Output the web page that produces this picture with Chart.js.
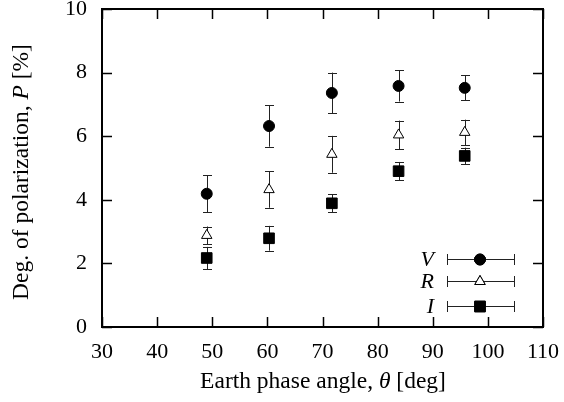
<!DOCTYPE html>
<html>
<head>
<meta charset="utf-8">
<script src="https://cdn.jsdelivr.net/npm/chart.js@4/dist/chart.umd.min.js"></script>
<style>
  body { margin: 0; background: #fff; }
  #wrap { width: 564px; height: 402px; }
</style>
</head>
<body>
<div id="wrap"><canvas id="pol-chart"></canvas></div>
<script>
// Earth phase angle (deg) and polarization (%) per band, with 1-sigma errors
const phaseAngles = [49.0, 60.3, 71.7, 83.8, 95.8];
const polV = [4.19, 6.32, 7.36, 7.58, 7.52];
const errV = [0.58, 0.65, 0.64, 0.49, 0.39];
const polR = [2.88, 4.32, 5.43, 6.04, 6.12];
const errR = [0.28, 0.57, 0.58, 0.45, 0.40];
const polI = [2.17, 2.79, 3.89, 4.90, 5.38];
const errI = [0.35, 0.39, 0.28, 0.29, 0.26];
const bandLabels = ['V', 'R', 'I'];
const xTicks = [30, 40, 50, 60, 70, 80, 90, 100, 110];
const yTicks = [0, 2, 4, 6, 8, 10];

const serif = "'Liberation Serif', 'DejaVu Serif', serif";
const fontSize = 22;
const titleSize = 23.5;

function toPoints(ys, errs) {
    return phaseAngles.map((x, i) => ({ x: x, y: ys[i], err: errs[i] }));
}

// vertical error bars with caps
const errorBars = {
    id: 'errorBars',
    beforeDatasetsDraw(chart) {
        const ctx = chart.ctx;
        const xs = chart.scales.x, ys = chart.scales.y;
        ctx.save();
        ctx.strokeStyle = '#222';
        ctx.lineWidth = 1;
        chart.data.datasets.forEach(ds => {
            ds.data.forEach(p => {
                const px = Math.round(xs.getPixelForValue(p.x)) + 0.5;
                const top = ys.getPixelForValue(p.y + p.err);
                const bot = ys.getPixelForValue(p.y - p.err);
                ctx.beginPath();
                ctx.moveTo(px, top); ctx.lineTo(px, bot);
                ctx.moveTo(px - 4.5, Math.round(top) + 0.5); ctx.lineTo(px + 4.5, Math.round(top) + 0.5);
                ctx.moveTo(px - 4.5, Math.round(bot) + 0.5); ctx.lineTo(px + 4.5, Math.round(bot) + 0.5);
                ctx.stroke();
            });
        });
        ctx.restore();
    }
};

// frame, inward ticks on all four sides, axis titles and the legend
const frame = {
    id: 'frame',
    afterDraw(chart) {
        const ctx = chart.ctx;
        const a = chart.chartArea;
        const xs = chart.scales.x, ys = chart.scales.y;
        ctx.save();
        ctx.strokeStyle = '#000';
        ctx.lineWidth = 2;
        ctx.strokeRect(a.left, a.top, a.right - a.left, a.bottom - a.top);
        ctx.lineWidth = 1.5;
        ctx.beginPath();
        xTicks.forEach(v => {
            const px = Math.round(xs.getPixelForValue(v)) + 0.5;
            ctx.moveTo(px, a.bottom); ctx.lineTo(px, a.bottom - 10);
            ctx.moveTo(px, a.top); ctx.lineTo(px, a.top + 10);
        });
        yTicks.forEach(v => {
            const py = Math.round(ys.getPixelForValue(v)) + 0.5;
            ctx.moveTo(a.left, py); ctx.lineTo(a.left + 10, py);
            ctx.moveTo(a.right, py); ctx.lineTo(a.right - 10, py);
        });
        ctx.stroke();

        // x title
        ctx.fillStyle = '#000';
        ctx.textBaseline = 'middle';
        const xParts = [['Earth phase angle, ', 'normal'], ['\u03b8', 'italic'], [' [deg]', 'normal']];
        drawParts(ctx, xParts, 323, 382);

        // y title, rotated
        ctx.save();
        ctx.translate(22, 172);
        ctx.rotate(-Math.PI / 2);
        const yParts = [['Deg. of polarization, ', 'normal'], ['P', 'italic'], [' [%]', 'normal']];
        drawParts(ctx, yParts, 0, 0);
        ctx.restore();

        // legend with horizontal error bars
        const rows = [259, 281, 306];
        chart.data.datasets.forEach((ds, i) => {
            const y = rows[i];
            ctx.font = 'italic ' + fontSize + 'px ' + serif;
            ctx.textAlign = 'right';
            ctx.fillStyle = '#000';
            ctx.fillText(bandLabels[i], 434, y + 1);
            ctx.strokeStyle = '#222';
            ctx.lineWidth = 1;
            ctx.beginPath();
            ctx.moveTo(447, y + 0.5); ctx.lineTo(514, y + 0.5);
            ctx.moveTo(447.5, y - 5); ctx.lineTo(447.5, y + 6);
            ctx.moveTo(514.5, y - 5); ctx.lineTo(514.5, y + 6);
            ctx.stroke();
            Chart.helpers.drawPoint(ctx, {
                pointStyle: ds.pointStyle,
                radius: ds.pointRadius,
                borderWidth: ds.borderWidth
            }, 480, y + 0.5);
            ctx.fillStyle = ds.backgroundColor;
            ctx.strokeStyle = ds.borderColor;
            ctx.lineWidth = ds.borderWidth;
            ctx.fill();
            ctx.stroke();
        });
        ctx.restore();
    }
};

function drawParts(ctx, parts, cx, cy) {
    let total = 0;
    parts.forEach(p => {
        ctx.font = p[1] + ' ' + titleSize + 'px ' + serif;
        total += ctx.measureText(p[0]).width;
    });
    let x = cx - total / 2;
    ctx.textAlign = 'left';
    parts.forEach(p => {
        ctx.font = p[1] + ' ' + titleSize + 'px ' + serif;
        ctx.fillText(p[0], x, cy);
        x += ctx.measureText(p[0]).width;
    });
}

const ctx = document.getElementById('pol-chart').getContext('2d');
new Chart(ctx, {
    type: 'scatter',
    data: {
        datasets: [
            { label: 'V', data: toPoints(polV, errV), pointStyle: 'circle', pointRadius: 5.5,
              backgroundColor: '#000', borderColor: '#000', borderWidth: 1 },
            { label: 'R', data: toPoints(polR, errR), pointStyle: 'triangle', pointRadius: 6,
              backgroundColor: '#fff', borderColor: '#000', borderWidth: 1 },
            { label: 'I', data: toPoints(polI, errI), pointStyle: 'rect', pointRadius: 7.5,
              backgroundColor: '#000', borderColor: '#000', borderWidth: 1 }
        ]
    },
    options: {
        responsive: true,
        maintainAspectRatio: false,
        animation: false,
        layout: { padding: { top: 9, right: 21, left: 0, bottom: 0 } },
        plugins: { legend: { display: false }, tooltip: { enabled: false } },
        elements: { point: { hoverRadius: 6 } },
        scales: {
            x: {
                type: 'linear', min: 30, max: 110,
                afterFit: s => { s.height = 75; s.paddingLeft = 0; s.paddingRight = 0; },
                afterBuildTicks: s => { s.ticks = xTicks.map(v => ({ value: v })); },
                grid: { display: false, drawTicks: false },
                border: { display: false },
                ticks: { color: '#000', padding: 12, maxRotation: 0, font: { family: serif, size: fontSize } }
            },
            y: {
                type: 'linear', min: 0, max: 10,
                afterFit: s => { s.width = 102; s.paddingTop = 0; s.paddingBottom = 0; },
                afterBuildTicks: s => { s.ticks = yTicks.map(v => ({ value: v })); },
                grid: { display: false, drawTicks: false },
                border: { display: false },
                ticks: { color: '#000', padding: 15, font: { family: serif, size: fontSize } }
            }
        }
    },
    plugins: [errorBars, frame]
});
</script>
</body>
</html>
